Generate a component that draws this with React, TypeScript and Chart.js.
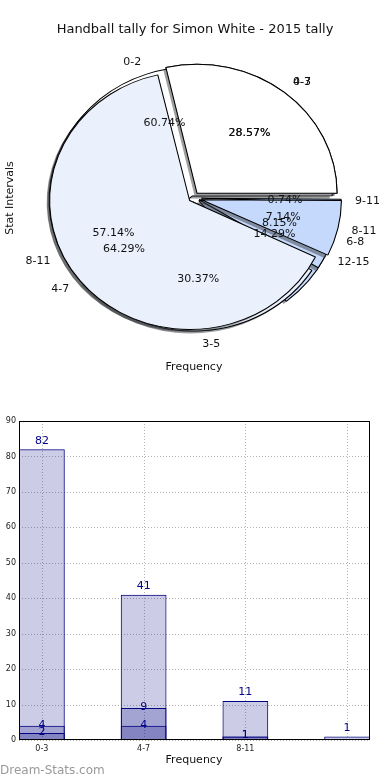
import React, { useEffect, useRef } from 'react';
import { Chart, registerables } from 'chart.js';

Chart.register(...registerables);

// ---------- data ----------
const chartTitle = 'Handball tally for Simon White - 2015 tally';
const pieYLabel = 'Stat Intervals';
const pieXLabel = 'Frequency';

const pieALabels = ['0-2', '3-5', '6-8', '9-11'];
const pieAValues = [82, 41, 11, 1];
const pieBLabels = ['0-3', '4-7', '8-11'];
const pieBValues = [4, 9, 1];
const pieCLabels = ['4-7', '8-11', '12-15'];
const pieCValues = [2, 4, 1];

const barCategories = ['0-3', '4-7', '8-11', ''];
const barTotal = [82, 41, 11, 1];
const barMiddle = [4, 9, 1, 0];
const barInner = [2, 4, 1, 0];
const barXLabel = 'Frequency';
const watermark = 'Dream-Stats.com';

// ---------- styles ----------
const FONT = '"DejaVu Sans", Verdana, sans-serif';
const SX = 1.085; // horizontal stretch of the pie (ellipse)
const SHADOW = 2.5;
const WHITE = '#ffffff';
const LIGHT = '#eaf1fd';
const BLUE = '#c5d9fc';
const BLUE2 = '#a3c2f8';
const BAR_FILL = 'rgba(0,0,128,0.2)';
const BAR_EDGE = '#000080';
const LABEL_BLUE = '#00008b';

// datasets order: index 0 drawn on top
const pieLayers = [
  { labels: pieBLabels, values: pieBValues, colors: [WHITE, LIGHT, BLUE], offsets: [24, 16, 32] },
  { labels: pieALabels, values: pieAValues, colors: [WHITE, LIGHT, BLUE, BLUE2], offsets: [8, 16, 24, 30] },
  { labels: pieCLabels, values: pieCValues, colors: [WHITE, LIGHT, BLUE], offsets: [24, 16, 24] },
];

function pieGeom(chart: any) {
  const a = chart.chartArea;
  return {
    cx: (a.left + a.right) / 2,
    cy: (a.top + a.bottom) / 2,
    R: Math.min(a.right - a.left, a.bottom - a.top) / 2,
  };
}

const pieLayerPlugin = {
  id: 'pieLayerPlugin',
  afterDatasetsUpdate(chart: any) {
    const { R } = pieGeom(chart);
    chart.data.datasets.forEach((_: any, i: number) => {
      chart.getDatasetMeta(i).data.forEach((el: any) => {
        const off = ((el.options && el.options.offset) || 0) / 4;
        const fix = 1 - Math.sin(Math.min(Math.PI, el.circumference || 0));
        el.innerRadius = 0;
        el.outerRadius = R - off * fix;
      });
    });
  },
  beforeDatasetsDraw(chart: any) {
    const { ctx } = chart;
    const { cx, cy } = pieGeom(chart);
    ctx.save();
    ctx.translate(cx, cy);
    ctx.scale(SX, -1);
    ctx.translate(-cx, -cy);
  },
  beforeDatasetDraw(chart: any, args: any) {
    const { ctx } = chart;
    const { R } = pieGeom(chart);
    ctx.save();
    ctx.translate(-SHADOW / SX, -SHADOW);
    ctx.fillStyle = 'rgba(60,62,66,0.5)';
    args.meta.data.forEach((el: any) => {
      const off = ((el.options && el.options.offset) || 0) / 4;
      const h = (el.startAngle + el.endAngle) / 2;
      const ox = el.x + Math.cos(h) * off;
      const oy = el.y + Math.sin(h) * off;
      ctx.beginPath();
      ctx.moveTo(ox, oy);
      ctx.arc(ox, oy, R, el.startAngle, el.endAngle);
      ctx.closePath();
      ctx.fill();
    });
    ctx.restore();
  },
  afterDatasetsDraw(chart: any) {
    const { ctx } = chart;
    ctx.restore();
    const { R } = pieGeom(chart);
    ctx.save();
    ctx.fillStyle = '#111';
    ctx.font = `11px ${FONT}`;
    ctx.textBaseline = 'middle';
    for (let i = chart.data.datasets.length - 1; i >= 0; i--) {
      const layer = pieLayers[i];
      const total = layer.values.reduce((s, v) => s + v, 0);
      chart.getDatasetMeta(i).data.forEach((el: any, j: number) => {
        const off = ((el.options && el.options.offset) || 0) / 4;
        const h = (el.startAngle + el.endAngle) / 2;
        const c = Math.cos(h);
        const s = Math.sin(h);
        const dl = 1.1 * R + off;
        const lx = el.x + SX * dl * c;
        const ly = el.y - dl * s;
        ctx.textAlign = c > 0 ? 'left' : 'right';
        ctx.fillText(layer.labels[j], lx, ly);
        const dp = 0.6 * R + off;
        ctx.textAlign = 'center';
        ctx.fillText(((layer.values[j] / total) * 100).toFixed(2) + '%', el.x + SX * dp * c, el.y - dp * s);
      });
    }
    ctx.restore();
  },
  afterDraw(chart: any) {
    const { ctx } = chart;
    ctx.save();
    ctx.fillStyle = '#111';
    ctx.textAlign = 'center';
    ctx.textBaseline = 'middle';
    ctx.font = `13px ${FONT}`;
    ctx.fillText(chartTitle, 195, 30);
    ctx.font = `11px ${FONT}`;
    ctx.fillText(pieXLabel, 194, 367);
    ctx.translate(10, 198);
    ctx.rotate(-Math.PI / 2);
    ctx.fillText(pieYLabel, 0, 0);
    ctx.restore();
  },
};

const barPlugin = {
  id: 'barPlugin',
  beforeDatasetsDraw(chart: any) {
    const { ctx, chartArea: a } = chart;
    const xs = chart.scales.x;
    const ys = chart.scales.y;
    ctx.save();
    ctx.strokeStyle = '#b4b4b4';
    ctx.lineWidth = 1;
    ctx.setLineDash([1, 2]);
    ys.ticks.forEach((t: any) => {
      const y = Math.round(ys.getPixelForValue(t.value)) + 0.5;
      ctx.beginPath();
      ctx.moveTo(a.left, y);
      ctx.lineTo(a.right, y);
      ctx.stroke();
    });
    xs.ticks.forEach((t: any) => {
      const x = Math.round(xs.getPixelForValue(t.value)) + 0.5;
      ctx.beginPath();
      ctx.moveTo(x, a.top);
      ctx.lineTo(x, a.bottom);
      ctx.stroke();
    });
    ctx.restore();
  },
  afterDatasetsDraw(chart: any) {
    const { ctx, chartArea: a } = chart;
    ctx.save();
    ctx.strokeStyle = '#000';
    ctx.lineWidth = 1;
    ctx.strokeRect(a.left + 0.5, a.top + 0.5, a.right - a.left - 1, a.bottom - a.top - 1);
    ctx.fillStyle = LABEL_BLUE;
    ctx.font = `11px ${FONT}`;
    ctx.textAlign = 'center';
    ctx.textBaseline = 'middle';
    const sets = [barTotal, barMiddle, barInner];
    sets.forEach((vals, i) => {
      chart.getDatasetMeta(i).data.forEach((el: any, j: number) => {
        if (!vals[j]) return;
        const dy = i === 0 ? -8.5 : -1;
        ctx.fillText(String(vals[j]), el.x, el.y + dy);
      });
    });
    ctx.restore();
  },
  afterDraw(chart: any) {
    const { ctx } = chart;
    ctx.save();
    ctx.fillStyle = '#111';
    ctx.font = `11px ${FONT}`;
    ctx.textAlign = 'center';
    ctx.textBaseline = 'middle';
    ctx.fillText(barXLabel, 194, 380);
    ctx.fillStyle = '#9a9a9a';
    ctx.font = `12px ${FONT}`;
    ctx.textAlign = 'left';
    ctx.fillText(watermark, 0, 391);
    ctx.restore();
  },
};

export default function App() {
  const pieRef = useRef<HTMLCanvasElement | null>(null);
  const barRef = useRef<HTMLCanvasElement | null>(null);

  useEffect(() => {
    const pie = new Chart(pieRef.current as HTMLCanvasElement, {
      type: 'pie',
      data: {
        labels: pieALabels,
        datasets: pieLayers.map((l) => ({
          data: l.values,
          backgroundColor: l.colors,
          borderColor: '#000',
          borderWidth: 1,
          offset: l.offsets,
          clip: false,
        })) as any,
      },
      options: {
        responsive: false,
        animation: false,
        events: [],
        rotation: 90,
        layout: { padding: { left: 60, right: 64, top: 69, bottom: 53 } },
        plugins: { legend: { display: false }, tooltip: { enabled: false }, title: { display: false } },
      } as any,
      plugins: [pieLayerPlugin as any],
    });

    const mk = (vals: number[]) => ({
      data: vals.map((v, i) => ({ x: i, y: v })),
      backgroundColor: BAR_FILL,
      borderColor: BAR_EDGE,
      borderWidth: 1,
      borderSkipped: false,
      grouped: false,
      barPercentage: 0.45,
      categoryPercentage: 1,
    });

    const bar = new Chart(barRef.current as HTMLCanvasElement, {
      type: 'bar',
      data: { datasets: [mk(barTotal), mk(barMiddle), mk(barInner)] as any },
      options: {
        responsive: false,
        animation: false,
        events: [],
        layout: { padding: { top: 41, right: 20, left: 0, bottom: 0 } },
        plugins: { legend: { display: false }, tooltip: { enabled: false } },
        scales: {
          x: {
            type: 'linear',
            min: -0.225,
            max: 3.225,
            offset: false,
            grid: { display: false, drawTicks: false, offset: false },
            border: { display: false },
            afterBuildTicks: (s: any) => {
              s.ticks = barCategories.map((_, i) => ({ value: i }));
            },
            afterFit: (s: any) => {
              s.height = 40;
            },
            ticks: {
              callback: (_v: any, i: number) => barCategories[i],
              font: { size: 8, family: FONT },
              color: '#222',
              padding: 4,
              maxRotation: 0,
              autoSkip: false,
            },
          },
          y: {
            min: 0,
            max: 90,
            grid: { display: false, drawTicks: false },
            border: { display: false },
            afterFit: (s: any) => {
              s.width = 19;
            },
            ticks: { stepSize: 10, font: { size: 8, family: FONT }, color: '#222', padding: 3 },
          },
        },
      } as any,
      plugins: [barPlugin as any],
    });

    return () => {
      pie.destroy();
      bar.destroy();
    };
  }, []);

  return (
    <div style={{ position: 'absolute', left: 0, top: 0, width: 390, height: 780, background: '#fff' }}>
      <canvas ref={pieRef} width={390} height={380} style={{ position: 'absolute', left: 0, top: 0, display: 'block' }} />
      <canvas ref={barRef} width={390} height={400} style={{ position: 'absolute', left: 0, top: 380, display: 'block' }} />
    </div>
  );
}
